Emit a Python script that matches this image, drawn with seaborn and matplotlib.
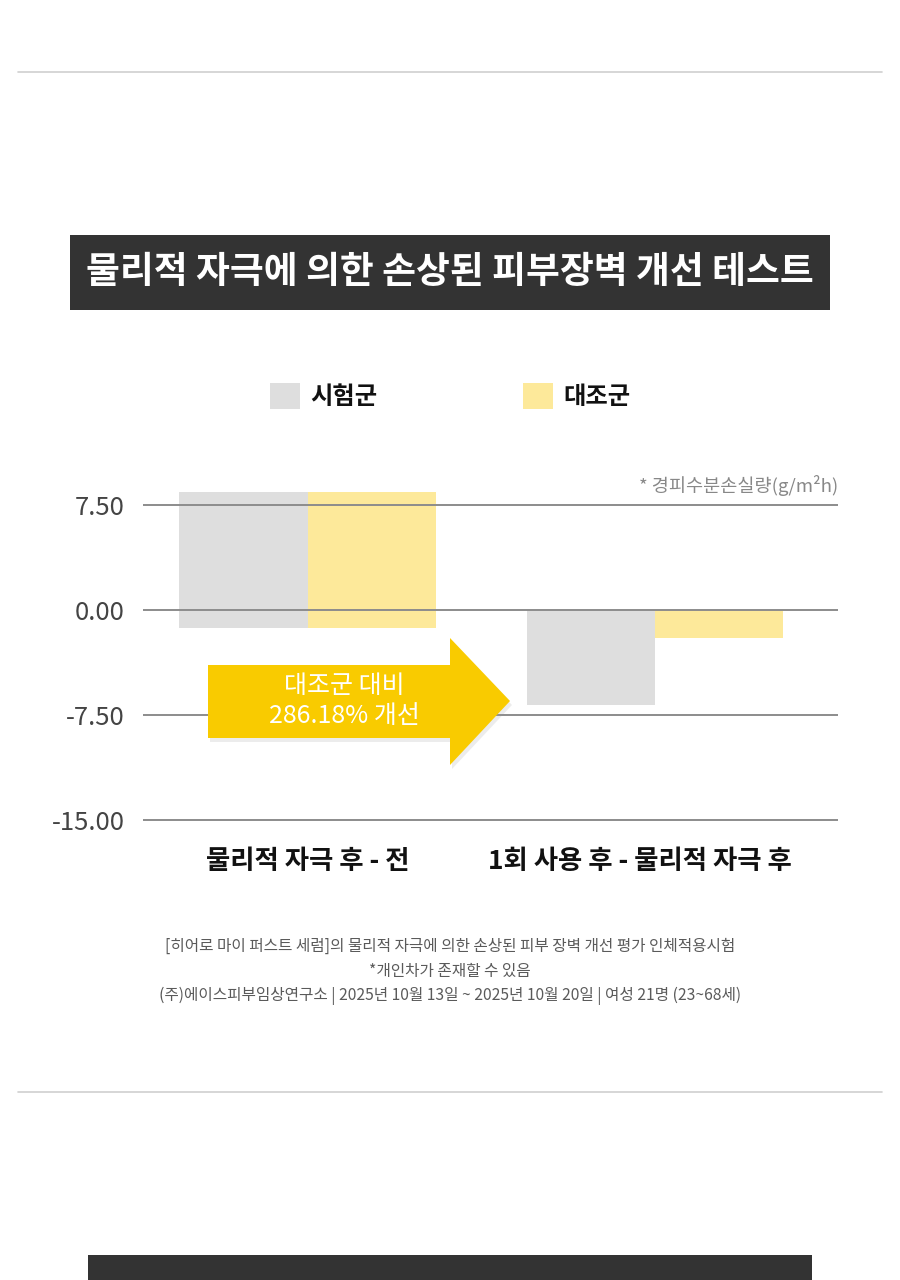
import numpy as np
import pandas as pd
import matplotlib
matplotlib.use('Agg')
import matplotlib.pyplot as plt
import matplotlib.transforms as mtransforms
import seaborn as sns
from matplotlib.patches import Polygon, Rectangle
from matplotlib.lines import Line2D

# 데이터
categories = ['물리적 자극 후 - 전', '1회 사용 후 - 물리적 자극 후']
groups = ['시험군', '대조군']
# 막대 위/아래 끝 값 (첫 그룹은 0 아래로 조금 내려감)
bar_main = [8.43, 8.43, -6.80, -2.00]
bar_under = [-1.29, -1.29, 0.0, 0.0]
yticks = [7.5, 0.0, -7.5, -15.0]
ytick_labels = ['7.50', '0.00', '-7.50', '-15.00']

df_main = pd.DataFrame({'구간': np.repeat(categories, 2), '군': groups * 2, '값': bar_main})
df_under = pd.DataFrame({'구간': np.repeat(categories, 2), '군': groups * 2, '값': bar_under})

palette = {'시험군': '#dedede', '대조군': '#fde99a'}

sns.set_theme(style='white')
plt.rcParams['font.family'] = ['Noto Sans CJK KR', 'DejaVu Sans']

W, H = 900, 1280
fig = plt.figure(figsize=(W / 100, H / 100), dpi=100)


def px(x, y):
    return (x / W, 1 - y / H)


# 축 위치: 왼쪽 143px, 오른쪽 838px, 아래 -15 라인 820px
ymin, ymax = -15.3, 9.0
unit = 14.0  # px per value
ax_bottom = 610 + (-ymin) * unit
ax_top = 610 - ymax * unit
ax = fig.add_axes([143 / W, 1 - ax_bottom / H, 695 / W, (ax_bottom - ax_top) / H])

sns.barplot(data=df_main, x='구간', y='값', hue='군', palette=palette, width=0.74,
            saturation=1, ax=ax, zorder=1, linewidth=0)
sns.barplot(data=df_under, x='구간', y='값', hue='군', palette=palette, width=0.74,
            saturation=1, ax=ax, zorder=1, linewidth=0, legend=False)

ax.set_xlim(-0.475, 1.527)
ax.set_ylim(ymin, ymax)
ax.set_yticks(yticks)
ax.set_yticklabels(ytick_labels)
for y in yticks:
    ax.axhline(y, color='#8c8c8c', lw=1.4, zorder=2)
ax.tick_params(axis='y', length=0, pad=13, labelsize=18.5, labelcolor='#444444')
ax.tick_params(axis='x', length=0, pad=17, labelsize=19, labelcolor='#111111')
xlabs = ax.get_xticklabels()
for lab in xlabs:
    lab.set_fontweight('bold')
# 두 번째 라벨은 원본처럼 살짝 왼쪽
xlabs[1].set_transform(xlabs[1].get_transform() +
                       mtransforms.ScaledTranslation(-15 / 100, 0, fig.dpi_scale_trans))
ax.set_xlabel('')
ax.set_ylabel('')
sns.despine(ax=ax, left=True, bottom=True)

# 범례
sns.move_legend(ax, loc='center', bbox_to_anchor=px(450, 396), bbox_transform=fig.transFigure,
                ncol=2, frameon=False, title=None, fontsize=17.5,
                handlelength=1.25, handleheight=1.25, handletextpad=0.4, columnspacing=6.0)
for t in ax.get_legend().get_texts():
    t.set_fontweight('bold')
    t.set_color('#111111')

# 단위 표기
fig.text(*px(838, 486), '* 경피수분손실량(g/m²h)', ha='right', va='center', fontsize=13.4,
         color='#888888')

# 화살표
arrow_pts = [(208, 665), (450, 665), (450, 638), (510, 701), (450, 765), (450, 738), (208, 738)]
shadow = Polygon([px(x + 2, y + 4) for x, y in arrow_pts], closed=True, transform=fig.transFigure,
                 facecolor='#999999', alpha=0.18, edgecolor='none', zorder=4)
fig.patches.append(shadow)
arrow = Polygon([px(x, y) for x, y in arrow_pts], closed=True, transform=fig.transFigure,
                facecolor='#f9cb00', edgecolor='none', zorder=5)
fig.patches.append(arrow)
fig.text(*px(344, 701), '대조군 대비\n286.18% 개선', ha='center', va='center', fontsize=18,
         fontweight='medium', color='white', linespacing=1.2, zorder=6)

# 상단/하단 구분선
fig.add_artist(Line2D([18 / W, 882 / W], [1 - 72 / H] * 2, color='#d0d0d0', lw=1.2))
fig.add_artist(Line2D([18 / W, 882 / W], [1 - 1092 / H] * 2, color='#d0d0d0', lw=1.2))

# 제목 박스
fig.patches.append(Rectangle(px(70, 310), 760 / W, 75 / H, transform=fig.transFigure,
                             facecolor='#333333', edgecolor='none'))
fig.text(*px(450, 273), '물리적 자극에 의한 손상된 피부장벽 개선 테스트', ha='center', va='center',
         fontsize=26.5, fontweight='bold', color='white')

# 다음 섹션 제목 박스 (잘림)
fig.patches.append(Rectangle(px(88, 1290), 724 / W, 35 / H, transform=fig.transFigure,
                             facecolor='#333333', edgecolor='none'))

# 각주
notes = ['[히어로 마이 퍼스트 세럼]의 물리적 자극에 의한 손상된 피부 장벽 개선 평가 인체적용시험',
         '*개인차가 존재할 수 있음',
         '(주)에이스피부임상연구소 | 2025년 10월 13일 ~ 2025년 10월 20일 | 여성 21명 (23~68세)']
for i, note in enumerate(notes):
    fig.text(*px(450, 946 + i * 25), note, ha='center', va='center', fontsize=11.3, color='#5a5a5a')

fig.savefig('out.png', dpi=100)
